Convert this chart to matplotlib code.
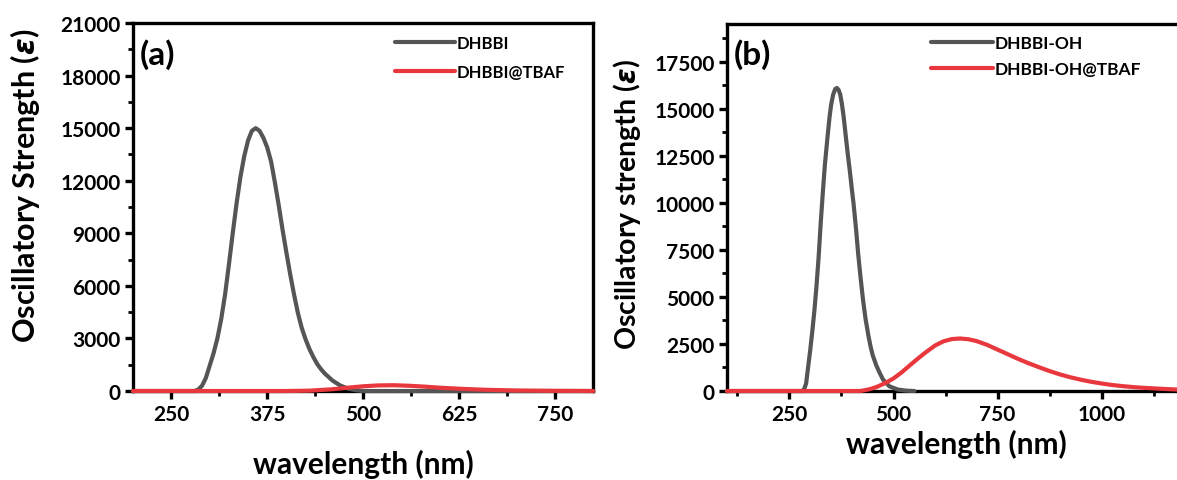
import matplotlib
matplotlib.use("Agg")
import matplotlib.pyplot as plt
from matplotlib.ticker import MultipleLocator, AutoMinorLocator

plt.rcParams['font.family'] = ['Lato', 'DejaVu Sans']
plt.rcParams['font.weight'] = 'bold'
plt.rcParams['mathtext.fontset'] = 'dejavusans'

# panel (a): DHBBI and DHBBI@TBAF
wl_dhbbi = [200, 280, 285, 290, 295, 300, 305, 310, 315, 320, 325, 330, 335, 340, 345, 350, 355,
            360, 365, 370, 375, 380, 385, 390, 395, 400, 405, 410, 415, 420, 425, 430, 435, 440,
            445, 450, 460, 470, 480, 490, 500, 800]
f_dhbbi = [0, 0, 80, 300, 750, 1450, 2150, 3000, 4100, 5500, 7200, 9000, 10700, 12200, 13400, 14300, 14850,
           15000, 14850, 14450, 13900, 13100, 11900, 10600, 9200, 7900, 6650, 5500, 4450, 3600, 2950, 2400, 1950, 1550,
           1250, 1000, 600, 320, 140, 50, 0, 0]

wl_dhbbi_tbaf = [200, 400, 430, 460, 480, 500, 520, 540, 560, 580, 600, 630, 660, 700, 750, 800]
f_dhbbi_tbaf = [0, 0, 20, 100, 190, 270, 320, 330, 300, 250, 190, 120, 70, 30, 10, 0]

# panel (b): DHBBI-OH and DHBBI-OH@TBAF
wl_oh = [100, 280, 285, 290, 295, 300, 305, 310, 315, 320, 325, 330, 335, 341, 346, 350, 355,
         360, 364, 368, 372, 376, 380, 386, 390, 395, 400, 404, 410, 415, 420, 427, 433, 440,
         445, 450, 459, 467, 475, 490, 510, 530, 550]
f_oh = [0, 0, 80, 400, 1300, 2200, 3200, 4300, 5600, 7100, 8900, 10500, 12000, 13400, 14500, 15200, 15750,
        16050, 16100, 16000, 15750, 15250, 14600, 13400, 12600, 11700, 10700, 9950, 8600, 7300, 6200, 4790, 3800, 2900,
        2350, 1900, 1340, 950, 600, 250, 80, 20, 0]

wl_oh_tbaf = [100, 420, 430, 445, 460, 480, 500, 520, 540, 560, 577, 600, 620, 640, 660, 680, 700,
              725, 750, 775, 800, 825, 850, 875, 900, 925, 950, 975, 1000, 1025, 1050, 1075, 1100,
              1150, 1200]
f_oh_tbaf = [0, 0, 40, 110, 220, 420, 670, 1000, 1380, 1750, 2050, 2420, 2640, 2760, 2790, 2750, 2650,
             2450, 2200, 1950, 1700, 1470, 1260, 1060, 880, 730, 600, 490, 400, 320, 260, 210, 170,
             110, 60]

GRAY = '#555555'
RED = '#e8383d'
LINE = dict(lw=3, zorder=3, clip_on=False, solid_joinstyle='round', solid_capstyle='round')

fig = plt.figure(figsize=(11.77, 4.81), dpi=100)
ax1 = fig.add_axes([0.113, 0.185, 0.391, 0.765])
ax2 = fig.add_axes([0.6177, 0.185, 0.389, 0.763])


def style_axes(ax):
    for sp in ax.spines.values():
        sp.set_linewidth(2.4)
    ax.tick_params(which='major', direction='out', length=6, width=2.4, labelsize=15, pad=3)
    ax.tick_params(which='minor', direction='out', length=3.5, width=2.0)
    ax.xaxis.set_minor_locator(AutoMinorLocator(2))
    ax.yaxis.set_minor_locator(AutoMinorLocator(2))
    for lab in ax.get_xticklabels() + ax.get_yticklabels():
        lab.set_fontweight('bold')


ax1.plot(wl_dhbbi, f_dhbbi, color=GRAY, label='DHBBI', **LINE)
ax1.plot(wl_dhbbi_tbaf, f_dhbbi_tbaf, color=RED, label='DHBBI@TBAF', **LINE)
ax1.set_xlim(200, 800)
ax1.set_ylim(0, 21000)
ax1.set_xticks([250, 375, 500, 625, 750])
ax1.yaxis.set_major_locator(MultipleLocator(3000))
style_axes(ax1)
ax1.set_xlabel('wavelength (nm)', fontsize=21.5, fontweight='bold', labelpad=18)
ax1.set_ylabel('Oscillatory Strength ($\\varepsilon$)', fontsize=22, fontweight='bold')
ax1.yaxis.set_label_coords(-0.198, 0.56)
ax1.text(0.015, 0.96, '(a)', transform=ax1.transAxes, fontsize=24, fontweight='bold', va='top')
ax1.legend(loc='upper left', frameon=False, fontsize=12, handlelength=3.6, handletextpad=0.1,
           borderaxespad=0.0, labelspacing=0.75, bbox_to_anchor=(0.555, 0.985))

ax2.plot(wl_oh, f_oh, color=GRAY, label='DHBBI-OH', **LINE)
ax2.plot(wl_oh_tbaf, f_oh_tbaf, color=RED, label='DHBBI-OH@TBAF', **LINE)
ax2.set_xlim(100, 1200)
ax2.set_ylim(0, 19500)
ax2.set_xticks([250, 500, 750, 1000])
ax2.yaxis.set_major_locator(MultipleLocator(2500))
style_axes(ax2)
ax2.set_xlabel('wavelength (nm)', fontsize=21.5, fontweight='bold', labelpad=4)
ax2.set_ylabel('Oscillatory strength ($\\varepsilon$)', fontsize=20.5, fontweight='bold')
ax2.yaxis.set_label_coords(-0.184, 0.512)
ax2.text(0.015, 0.96, '(b)', transform=ax2.transAxes, fontsize=24, fontweight='bold', va='top')
ax2.legend(loc='upper left', frameon=False, fontsize=12.5, handlelength=3.6, handletextpad=0.1,
           borderaxespad=0.0, labelspacing=0.6, bbox_to_anchor=(0.43, 0.99))

fig.savefig('out.png', dpi=100)
